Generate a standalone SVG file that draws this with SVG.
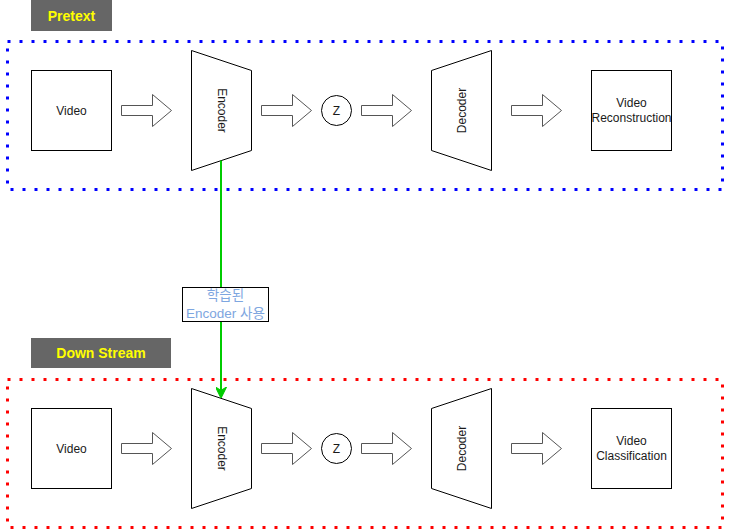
<svg xmlns="http://www.w3.org/2000/svg" width="734" height="532" viewBox="0 0 734 532">
<defs>
<style>
.box{fill:#fff;stroke:#000;stroke-width:1}
.t{font-family:"Liberation Sans",Arial,sans-serif;font-size:12px;fill:#1a1a1a;text-anchor:middle;dominant-baseline:central}
.lbl{font-family:"Liberation Sans",Arial,sans-serif;font-size:14px;font-weight:bold;fill:#ffff00;text-anchor:middle;dominant-baseline:central}
.el{font-family:"Liberation Sans","Noto Sans CJK KR",sans-serif;font-size:13.5px;fill:#7ea6e0;text-anchor:middle;dominant-baseline:central}
.arr{fill:#fff;stroke:#555;stroke-width:1}
.frame{fill:none;stroke-width:3;stroke-dasharray:3 9}
</style>
<marker id="gh" viewBox="0 0 10 10" refX="9" refY="5" markerWidth="5.5" markerHeight="5.5" orient="auto" markerUnits="strokeWidth">
<path d="M0,0 L10,5 L0,10 L3,5 Z" fill="#00cc00" stroke="#00cc00"/>
</marker>
<path id="fa" d="M0,-5 H31 V-16 L50,0 L31,16 V5 H0 Z"/>
</defs>
<rect x="0" y="0" width="734" height="532" fill="#fff"/>

<g id="pretext-label">
<rect x="31" y="0" width="81" height="31" fill="#666666"/>
<text class="lbl" x="71.5" y="15.5">Pretext</text>
</g>
<g id="pretext-frame">
<rect class="frame" x="7.5" y="41.5" width="715" height="148" stroke="#0000ff"/>
</g>

<g id="downstream-label">
<rect x="31" y="338" width="140" height="30" fill="#666666"/>
<text class="lbl" x="101" y="353">Down Stream</text>
</g>
<g id="downstream-frame">
<rect class="frame" x="7.5" y="379.5" width="715" height="148" stroke="#ff0000"/>
</g>

<!-- Pretext row -->
<g id="video1"><rect class="box" x="31.5" y="70.5" width="80" height="80"/><text class="t" x="71.5" y="110.5">Video</text></g>
<g id="encoder1"><path class="box" d="M191.5,50.5 L251.5,70.5 L251.5,150.5 L191.5,170.5 Z"/><text class="t" transform="translate(221.5,110.5) rotate(90)">Encoder</text></g>
<g id="z1"><circle class="box" cx="336.5" cy="110.5" r="15"/><text class="t" x="336.5" y="110.5">Z</text></g>
<g id="decoder1"><path class="box" d="M431.5,70.5 L491.5,50.5 L491.5,170.5 L431.5,150.5 Z"/><text class="t" transform="translate(461.5,110.5) rotate(-90)">Decoder</text></g>
<g id="recon"><rect class="box" x="591.5" y="70.5" width="80" height="80"/><text class="t" x="631.5" y="102.5">Video</text><text class="t" x="631.5" y="117.5">Reconstruction</text></g>

<!-- Down stream row -->
<g id="video2"><rect class="box" x="31.5" y="408.5" width="80" height="80"/><text class="t" x="71.5" y="448.5">Video</text></g>
<g id="encoder2"><path class="box" d="M191.5,388.5 L251.5,408.5 L251.5,488.5 L191.5,508.5 Z"/><text class="t" transform="translate(221.5,448.5) rotate(90)">Encoder</text></g>
<g id="z2"><circle class="box" cx="336.5" cy="448.5" r="15"/><text class="t" x="336.5" y="448.5">Z</text></g>
<g id="decoder2"><path class="box" d="M431.5,408.5 L491.5,388.5 L491.5,508.5 L431.5,488.5 Z"/><text class="t" transform="translate(461.5,448.5) rotate(-90)">Decoder</text></g>
<g id="classif"><rect class="box" x="591.5" y="408.5" width="80" height="80"/><text class="t" x="631.5" y="440.5">Video</text><text class="t" x="631.5" y="455.5">Classification</text></g>

<g id="connectors">
<use href="#fa" class="arr" transform="translate(121.5,110.5)"/>
<use href="#fa" class="arr" transform="translate(261.5,110.5)"/>
<use href="#fa" class="arr" transform="translate(361.5,110.5)"/>
<use href="#fa" class="arr" transform="translate(511.5,110.5)"/>
<use href="#fa" class="arr" transform="translate(121.5,448.5)"/>
<use href="#fa" class="arr" transform="translate(261.5,448.5)"/>
<use href="#fa" class="arr" transform="translate(361.5,448.5)"/>
<use href="#fa" class="arr" transform="translate(511.5,448.5)"/>
<line x1="221" y1="160.5" x2="221" y2="397" stroke="#00cc00" stroke-width="2" marker-end="url(#gh)"/>
<g id="edge-label">
<rect x="182.5" y="287.5" width="86" height="34" fill="#fff" stroke="#000"/>
<text class="el" x="225.5" y="295.5">학습된</text>
<text class="el" x="225.5" y="313">Encoder 사용</text>
</g>
</g>
</svg>
